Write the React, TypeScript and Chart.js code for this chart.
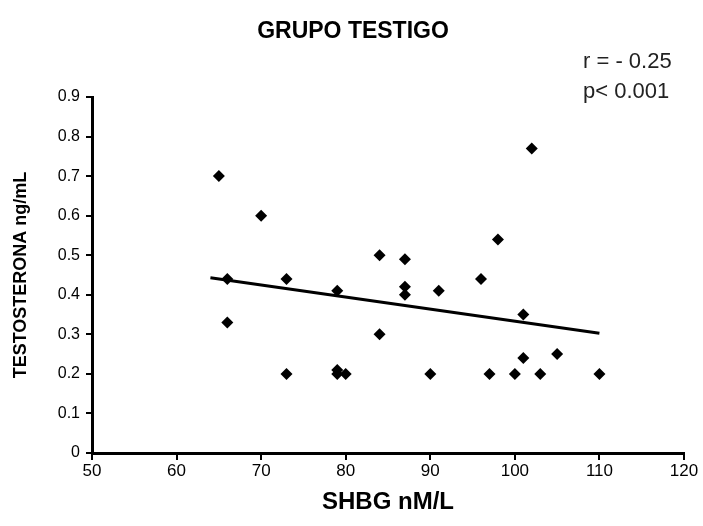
import React, { useEffect, useRef } from 'react';
import { Chart, registerables } from 'chart.js';

Chart.register(...registerables);

// ---- Data ----
const shbg = [65, 66, 66, 70, 73, 73, 79, 79, 79, 80, 84, 84, 87, 87, 87, 90, 91, 96, 97, 98, 100, 101, 101, 102, 103, 105, 110];
const testosterona = [0.70, 0.44, 0.33, 0.60, 0.44, 0.20, 0.41, 0.21, 0.20, 0.20, 0.50, 0.30, 0.49, 0.42, 0.40, 0.20, 0.41, 0.44, 0.20, 0.54, 0.20, 0.35, 0.24, 0.77, 0.20, 0.25, 0.20];
const trendX = [64, 110];
const trendY = [0.443, 0.303];
const xTickValues = [50, 60, 70, 80, 90, 100, 110, 120];
const yTickValues = [0, 0.1, 0.2, 0.3, 0.4, 0.5, 0.6, 0.7, 0.8, 0.9];
const chartTitle = 'GRUPO TESTIGO';
const statLines = ['r = - 0.25', 'p< 0.001'];
const xAxisTitle = 'SHBG nM/L';
const yAxisTitle = 'TESTOSTERONA ng/mL';

const FONT = "'Liberation Sans', Arial, Helvetica, sans-serif";

const textPlugin = {
  id: 'textPlugin',
  afterDraw(chart: any) {
    const ctx = chart.ctx;
    ctx.save();
    ctx.fillStyle = '#000';
    ctx.textBaseline = 'alphabetic';
    ctx.textAlign = 'center';
    ctx.font = `bold 23px ${FONT}`;
    ctx.fillText(chartTitle, 353, 38);
    ctx.textAlign = 'left';
    ctx.font = `22px ${FONT}`;
    ctx.fillStyle = '#222';
    ctx.fillText(statLines[0], 583, 68);
    ctx.fillText(statLines[1], 583, 98);
    ctx.restore();
  },
};

export default function App() {
  const ref = useRef<HTMLCanvasElement | null>(null);

  useEffect(() => {
    if (!ref.current) return;
    const points = shbg.map((x, i) => ({ x, y: testosterona[i] }));
    const trend = trendX.map((x, i) => ({ x, y: trendY[i] }));
    const chart = new Chart(ref.current, {
      type: 'scatter',
      data: {
        datasets: [
          {
            type: 'line',
            data: trend,
            borderColor: '#000',
            borderWidth: 3,
            pointRadius: 0,
            fill: false,
            order: 2,
          } as any,
          {
            data: points,
            pointStyle: 'rectRot',
            pointRadius: 6,
            pointHoverRadius: 6,
            backgroundColor: '#000',
            borderColor: '#000',
            borderWidth: 0,
            order: 1,
          },
        ],
      },
      options: {
        responsive: false,
        animation: false,
        events: [],
        layout: { padding: { top: 97, right: 19, left: 0, bottom: 0 } },
        plugins: {
          legend: { display: false },
          title: { display: false },
          tooltip: { enabled: false },
        },
        scales: {
          x: {
            type: 'linear',
            min: 50,
            max: 120,
            afterBuildTicks: (s: any) => {
              s.ticks = xTickValues.map((v) => ({ value: v }));
            },
            afterFit: (s: any) => {
              s.height = 73;
            },
            ticks: {
              color: '#000',
              font: { family: FONT, size: 17 },
              padding: 1,
            },
            grid: {
              drawOnChartArea: false,
              drawTicks: true,
              tickLength: 7,
              color: '#000',
              lineWidth: 2,
            },
            border: { display: true, color: '#000', width: 3 },
            title: {
              display: true,
              text: xAxisTitle,
              color: '#000',
              font: { family: FONT, size: 24, weight: 'bold' },
              padding: { top: 0, bottom: 9 },
            },
          },
          y: {
            type: 'linear',
            min: 0,
            max: 0.9,
            afterBuildTicks: (s: any) => {
              s.ticks = yTickValues.map((v) => ({ value: v }));
            },
            afterFit: (s: any) => {
              s.width = 92;
            },
            ticks: {
              color: '#000',
              font: { family: FONT, size: 16 },
              padding: 6,
              callback: (v: any) => String(Math.round(Number(v) * 10) / 10),
            },
            grid: {
              drawOnChartArea: false,
              drawTicks: true,
              tickLength: 6,
              color: '#000',
              lineWidth: 2,
            },
            border: { display: true, color: '#000', width: 3 },
            title: {
              display: true,
              text: yAxisTitle,
              color: '#000',
              font: { family: FONT, size: 18, weight: 'bold' },
              padding: { top: 10, bottom: 0 },
            },
          },
        },
      },
      plugins: [textPlugin],
    });
    return () => chart.destroy();
  }, []);

  return (
    <div style={{ position: 'absolute', left: 0, top: 0, width: 703, height: 526, background: '#fff' }}>
      <canvas ref={ref} width={703} height={526} style={{ display: 'block' }} />
    </div>
  );
}
